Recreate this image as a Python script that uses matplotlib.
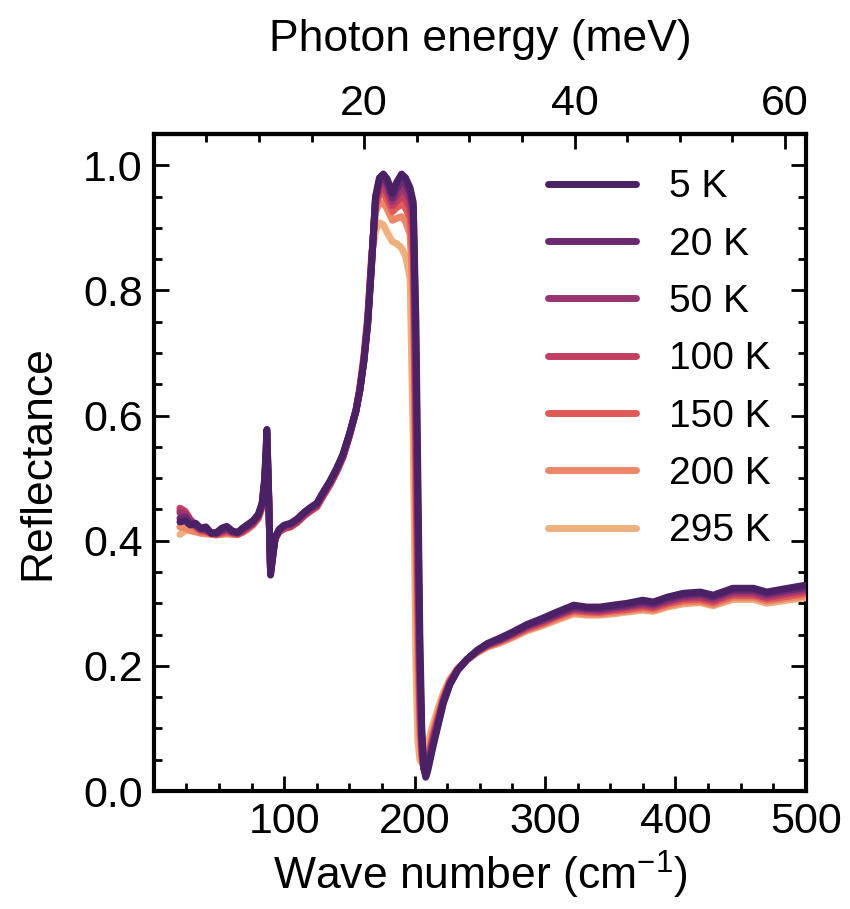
import matplotlib
matplotlib.use("Agg")
import matplotlib.pyplot as plt
from matplotlib.ticker import MultipleLocator

plt.rcParams['font.family'] = ['Liberation Sans', 'DejaVu Sans']
plt.rcParams['mathtext.fontset'] = 'custom'
plt.rcParams['mathtext.rm'] = 'Liberation Sans'
plt.rcParams['mathtext.it'] = 'Liberation Sans:italic'

# Wave number grid (cm^-1) shared by all temperatures
wavenumber = [20, 24, 28, 32, 36, 40, 44, 48, 52, 56, 60, 64, 68, 72, 76, 80,
              83, 85, 86.7, 88, 89.5, 91, 93, 96,
              100, 105, 110, 115, 120, 125, 130, 135, 140, 145, 150, 155, 158, 161, 164,
              167, 170, 173, 176, 179, 183, 186, 190, 193, 196.5, 199, 201, 202.5, 204,
              205.5, 207, 208.5, 210,
              214, 218, 222, 227, 233, 240,
              248, 256, 265, 275, 286, 298, 309, 322, 332, 342, 352, 363, 375, 383,
              394, 406, 419, 429, 444, 460, 470, 486, 500]

temperatures = ["5 K", "20 K", "50 K", "100 K", "150 K", "200 K", "295 K"]
colors = ["#4b2166", "#6b2a6f", "#983570", "#c23f63", "#e05a58", "#ec8868", "#efb07f"]

refl_5K = [0.430, 0.432, 0.425, 0.428, 0.420, 0.422, 0.412, 0.413, 0.420, 0.423, 0.416, 0.413, 0.420, 0.426, 0.432, 0.442,
           0.460, 0.500, 0.578, 0.480, 0.345, 0.370, 0.405, 0.418,
           0.425, 0.428, 0.435, 0.445, 0.453, 0.460, 0.478, 0.495, 0.515, 0.538, 0.571, 0.608, 0.640, 0.685, 0.745,
           0.840, 0.950, 0.980, 0.986, 0.978, 0.955, 0.972, 0.986, 0.980, 0.964, 0.940, 0.750, 0.500, 0.250,
           0.100, 0.040, 0.022, 0.032,
           0.070, 0.105, 0.140, 0.170, 0.193, 0.210,
           0.225, 0.236, 0.244, 0.254, 0.266, 0.276, 0.286, 0.297, 0.294, 0.294, 0.297, 0.300, 0.305, 0.302,
           0.310, 0.316, 0.318, 0.313, 0.324, 0.324, 0.318, 0.324, 0.329]

refl_20K = [0.436, 0.438, 0.428, 0.425, 0.419, 0.418, 0.413, 0.412, 0.417, 0.420, 0.415, 0.413, 0.418, 0.424, 0.430, 0.440,
            0.458, 0.497, 0.572, 0.478, 0.347, 0.372, 0.404, 0.417,
            0.424, 0.427, 0.434, 0.444, 0.452, 0.459, 0.477, 0.494, 0.514, 0.537, 0.570, 0.608, 0.641, 0.686, 0.747,
            0.842, 0.948, 0.976, 0.982, 0.972, 0.948, 0.962, 0.975, 0.970, 0.955, 0.930, 0.700, 0.450, 0.210,
            0.085, 0.038, 0.025, 0.035,
            0.074, 0.108, 0.142, 0.171, 0.193, 0.210,
            0.224, 0.235, 0.242, 0.252, 0.264, 0.274, 0.283, 0.294, 0.292, 0.291, 0.294, 0.297, 0.302, 0.299,
            0.307, 0.313, 0.315, 0.310, 0.321, 0.321, 0.315, 0.321, 0.325]

refl_50K = [0.445, 0.442, 0.432, 0.424, 0.418, 0.417, 0.412, 0.411, 0.415, 0.418, 0.414, 0.412, 0.417, 0.423, 0.429, 0.439,
            0.457, 0.494, 0.565, 0.476, 0.349, 0.374, 0.404, 0.416,
            0.422, 0.425, 0.432, 0.442, 0.450, 0.457, 0.475, 0.492, 0.512, 0.535, 0.569, 0.607, 0.641, 0.687, 0.749,
            0.845, 0.945, 0.970, 0.975, 0.965, 0.942, 0.952, 0.962, 0.958, 0.945, 0.910, 0.650, 0.400, 0.180,
            0.075, 0.036, 0.027, 0.038,
            0.078, 0.111, 0.144, 0.172, 0.194, 0.210,
            0.224, 0.234, 0.241, 0.251, 0.263, 0.272, 0.281, 0.292, 0.290, 0.289, 0.292, 0.295, 0.299, 0.297,
            0.304, 0.310, 0.312, 0.307, 0.318, 0.318, 0.312, 0.318, 0.322]

refl_100K = [0.452, 0.447, 0.434, 0.425, 0.418, 0.417, 0.413, 0.411, 0.414, 0.417, 0.413, 0.411, 0.415, 0.421, 0.427, 0.438,
             0.456, 0.490, 0.556, 0.473, 0.351, 0.376, 0.403, 0.415,
             0.420, 0.423, 0.430, 0.440, 0.448, 0.455, 0.473, 0.490, 0.510, 0.534, 0.568, 0.607, 0.642, 0.688, 0.751,
             0.848, 0.940, 0.962, 0.965, 0.955, 0.935, 0.942, 0.950, 0.946, 0.932, 0.890, 0.580, 0.340, 0.150,
             0.065, 0.035, 0.030, 0.042,
             0.083, 0.115, 0.146, 0.174, 0.194, 0.210,
             0.223, 0.233, 0.240, 0.250, 0.261, 0.270, 0.280, 0.290, 0.288, 0.287, 0.290, 0.293, 0.297, 0.294,
             0.302, 0.308, 0.309, 0.304, 0.315, 0.315, 0.309, 0.315, 0.319]

refl_150K = [0.448, 0.442, 0.430, 0.421, 0.415, 0.414, 0.411, 0.410, 0.412, 0.414, 0.412, 0.410, 0.414, 0.420, 0.426, 0.436,
             0.455, 0.487, 0.548, 0.470, 0.353, 0.377, 0.403, 0.414,
             0.419, 0.422, 0.429, 0.439, 0.447, 0.454, 0.472, 0.489, 0.509, 0.533, 0.567, 0.607, 0.643, 0.690, 0.753,
             0.850, 0.935, 0.953, 0.955, 0.945, 0.926, 0.932, 0.938, 0.932, 0.915, 0.850, 0.500, 0.280, 0.120,
             0.058, 0.036, 0.034, 0.047,
             0.088, 0.119, 0.148, 0.175, 0.195, 0.210,
             0.222, 0.232, 0.239, 0.248, 0.259, 0.268, 0.278, 0.288, 0.286, 0.285, 0.288, 0.290, 0.294, 0.292,
             0.299, 0.305, 0.306, 0.301, 0.312, 0.312, 0.306, 0.311, 0.316]

refl_200K = [0.422, 0.420, 0.416, 0.414, 0.412, 0.411, 0.410, 0.409, 0.410, 0.411, 0.410, 0.410, 0.413, 0.418, 0.425, 0.435,
             0.453, 0.484, 0.540, 0.467, 0.356, 0.379, 0.403, 0.414,
             0.420, 0.423, 0.430, 0.440, 0.448, 0.455, 0.473, 0.490, 0.510, 0.534, 0.568, 0.608, 0.644, 0.692, 0.756,
             0.852, 0.925, 0.940, 0.940, 0.930, 0.912, 0.915, 0.918, 0.910, 0.890, 0.780, 0.400, 0.200, 0.090,
             0.050, 0.038, 0.040, 0.055,
             0.094, 0.124, 0.151, 0.176, 0.195, 0.209,
             0.222, 0.231, 0.237, 0.246, 0.257, 0.266, 0.275, 0.285, 0.283, 0.283, 0.285, 0.288, 0.291, 0.289,
             0.296, 0.302, 0.303, 0.298, 0.309, 0.309, 0.303, 0.308, 0.312]

refl_295K = [0.410, 0.416, 0.418, 0.416, 0.413, 0.412, 0.411, 0.411, 0.411, 0.412, 0.412, 0.412, 0.415, 0.420, 0.427, 0.437,
             0.452, 0.480, 0.530, 0.463, 0.360, 0.382, 0.404, 0.414,
             0.421, 0.424, 0.431, 0.441, 0.449, 0.456, 0.474, 0.491, 0.511, 0.535, 0.570, 0.610, 0.647, 0.696, 0.760,
             0.855, 0.895, 0.908, 0.905, 0.892, 0.878, 0.875, 0.868, 0.855, 0.820, 0.550, 0.200, 0.080, 0.050,
             0.045, 0.050, 0.060, 0.075,
             0.105, 0.132, 0.157, 0.179, 0.196, 0.209,
             0.221, 0.230, 0.236, 0.245, 0.256, 0.264, 0.273, 0.283, 0.281, 0.281, 0.283, 0.286, 0.289, 0.287,
             0.294, 0.299, 0.301, 0.296, 0.306, 0.306, 0.300, 0.305, 0.309]

spectra = [refl_5K, refl_20K, refl_50K, refl_100K, refl_150K, refl_200K, refl_295K]

x_ticks = [100, 200, 300, 400, 500]
energy_ticks = [20, 40, 60]

# 1 meV = 8.06554 cm^-1
CM_PER_MEV = 8.06554

fig = plt.figure(figsize=(8.5, 9.09), dpi=100)
ax = fig.add_axes([0.181, 0.1298, 0.767, 0.7228])

for i, (label, refl, c) in enumerate(zip(temperatures, spectra, colors)):
    ax.plot(wavenumber, refl, color=c, lw=5, label=label, zorder=10 - i,
            solid_joinstyle='round', solid_capstyle='round')

ax.set_xlim(0, 500)
ax.set_ylim(0, 1.05)
ax.set_xticks(x_ticks)
ax.xaxis.set_minor_locator(MultipleLocator(25))
ax.yaxis.set_major_locator(MultipleLocator(0.2))
ax.yaxis.set_minor_locator(MultipleLocator(0.05))

ax.tick_params(which='both', direction='in', width=2, labelsize=31,
               left=True, right=True, bottom=True, top=False)
ax.tick_params(which='major', length=11, pad=8)
ax.tick_params(which='minor', length=6)
for s in ax.spines.values():
    s.set_linewidth(3)

ax.set_xlabel(r"Wave number (cm$^{-1}$)", fontsize=32, labelpad=5)
ax.set_ylabel("Reflectance", fontsize=32, labelpad=18)

sec = ax.secondary_xaxis('top', functions=(lambda w: w / CM_PER_MEV,
                                           lambda e: e * CM_PER_MEV))
sec.set_xticks(energy_ticks)
sec.xaxis.set_minor_locator(MultipleLocator(5))
sec.tick_params(which='both', direction='in', width=2, labelsize=31)
sec.tick_params(which='major', length=11, pad=7)
sec.tick_params(which='minor', length=6)
sec.spines['top'].set_linewidth(3)
sec.set_xlabel("Photon energy (meV)", fontsize=32, labelpad=24)

leg = ax.legend(loc='upper right', bbox_to_anchor=(0.982, 0.982), frameon=False,
                fontsize=28, handlelength=2.26, handletextpad=0.85,
                labelspacing=0.55, borderaxespad=0.2)

fig.savefig("out.png", dpi=100)
